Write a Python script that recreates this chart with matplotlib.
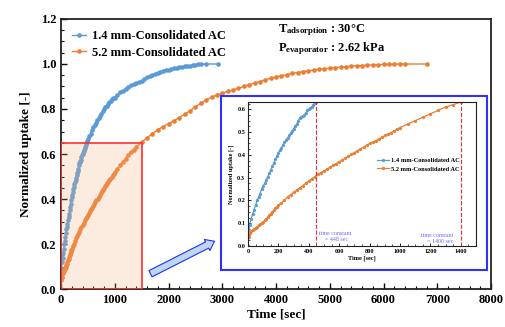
import numpy as np
import matplotlib
matplotlib.use("Agg")
import matplotlib.pyplot as plt
from matplotlib.patches import Rectangle, FancyArrowPatch
from matplotlib.ticker import MultipleLocator
from matplotlib.colors import to_rgba

# 1.4 mm consolidated AC
t_14 = [0, 10, 20, 30, 40, 50, 60, 70, 80, 90, 100, 110, 120, 130, 140, 150, 160,
        170, 180, 190, 200, 210, 220, 230, 240, 250, 260, 270, 280, 290, 300, 310,
        320, 330, 340, 350, 360, 370, 380, 390, 400, 410, 420, 430, 440, 450, 460,
        470, 480, 490, 500,
        525, 550, 575, 600, 625, 650, 675, 700, 725, 750, 775, 800, 825, 850, 875,
        900, 925, 950, 975, 1000,
        1050, 1100, 1150, 1200, 1250, 1300, 1350, 1400, 1450, 1500, 1550, 1600,
        1650, 1700, 1750, 1800, 1850, 1900, 1950, 2000, 2050, 2100, 2150, 2200,
        2250, 2300, 2350, 2400, 2450, 2500, 2550, 2600, 2700, 2926]
u_14 = [0, 0.09, 0.12, 0.14, 0.16, 0.18, 0.20, 0.215, 0.23, 0.25, 0.265, 0.275,
        0.29, 0.305, 0.32, 0.335, 0.35, 0.365, 0.38, 0.395, 0.41, 0.42, 0.43, 0.445,
        0.455, 0.465, 0.475, 0.485, 0.495, 0.505, 0.515, 0.525, 0.535, 0.55, 0.56,
        0.565, 0.57, 0.575, 0.585, 0.595, 0.60, 0.605, 0.612, 0.62, 0.628, 0.633,
        0.64, 0.647, 0.653, 0.66, 0.665,
        0.678, 0.69, 0.705, 0.72, 0.73, 0.74, 0.75, 0.76, 0.77, 0.78, 0.79, 0.80,
        0.808, 0.815, 0.822, 0.83, 0.837, 0.843, 0.847, 0.85,
        0.862, 0.875, 0.882, 0.89, 0.898, 0.905, 0.91, 0.915, 0.92, 0.925, 0.932,
        0.94, 0.945, 0.95, 0.956, 0.962, 0.966, 0.97, 0.972, 0.975, 0.978, 0.98,
        0.983, 0.985, 0.988, 0.99, 0.992, 0.993, 0.995, 0.997, 0.998, 0.999, 1.0,
        1.0]

# 5.2 mm consolidated AC
t_52 = [0, 5, 10, 20, 30, 40, 50, 60, 70, 80, 90, 100, 110, 120, 130, 140, 150,
        160, 170, 180, 190, 200,
        220, 240, 260, 280, 300, 320, 340, 360, 380, 400, 420, 440, 460, 480, 500,
        520, 540, 560, 580, 600, 620, 640, 660, 680, 700, 720, 740, 760, 780, 800,
        820, 840, 860, 880, 900, 920, 940, 960, 980, 1000,
        1050, 1100, 1150, 1200, 1250, 1300, 1350, 1400,
        1500, 1600, 1700, 1800, 1900, 2000, 2100, 2200, 2300, 2400, 2500, 2600,
        2700, 2800, 2900, 3000, 3100, 3200, 3300, 3400, 3500, 3600, 3700, 3800,
        3900, 4000, 4100, 4200, 4300, 4400, 4500, 4600, 4700, 4800, 4900, 5000,
        5100, 5200, 5300, 5400, 5500, 5600, 5700, 5800, 5900, 6000, 6100, 6200,
        6300, 6400, 6800]
u_52 = [0, 0.04, 0.055, 0.065, 0.07, 0.075, 0.08, 0.085, 0.09, 0.095, 0.10, 0.105,
        0.112, 0.12, 0.127, 0.135, 0.142, 0.15, 0.157, 0.165, 0.172, 0.18,
        0.19, 0.20, 0.215, 0.225, 0.235, 0.245, 0.255, 0.265, 0.275, 0.285, 0.295,
        0.305, 0.315, 0.322, 0.33, 0.338, 0.346, 0.354, 0.362, 0.37, 0.378, 0.386,
        0.394, 0.402, 0.41, 0.418, 0.426, 0.434, 0.442, 0.45, 0.456, 0.462, 0.47,
        0.477, 0.485, 0.491, 0.497, 0.505, 0.512, 0.52,
        0.535, 0.55, 0.565, 0.58, 0.595, 0.61, 0.62, 0.632,
        0.652, 0.672, 0.69, 0.708, 0.722, 0.735, 0.748, 0.762, 0.777, 0.792, 0.81,
        0.825, 0.84, 0.852, 0.862, 0.87, 0.878, 0.885, 0.892, 0.90, 0.908, 0.915,
        0.922, 0.93, 0.937, 0.943, 0.948, 0.953, 0.958, 0.962, 0.966, 0.97, 0.973,
        0.976, 0.979, 0.982, 0.984, 0.986, 0.988, 0.99, 0.992, 0.993, 0.995, 0.996,
        0.997, 0.998, 0.998, 0.999, 1.0, 1.0, 1.0]

tau_14 = 448
tau_52 = 1400

blue = "#5B9BD5"
orange = "#ED7D31"

plt.rcParams["font.family"] = "Liberation Serif"
plt.rcParams["font.weight"] = "bold"
plt.rcParams["mathtext.fontset"] = "custom"
plt.rcParams["mathtext.rm"] = "Liberation Serif:bold"
plt.rcParams["mathtext.bf"] = "Liberation Serif:bold"
plt.rcParams["mathtext.it"] = "Liberation Serif:bold"

fig = plt.figure(figsize=(5.05, 3.27), dpi=100)
ax = fig.add_axes([0.1208, 0.1162, 0.8515, 0.8257])

ax.plot(t_14, u_14, "-o", color=blue, ms=2.3, lw=1, label="1.4 mm-Consolidated AC")
ax.plot(t_52, u_52, "-o", color=orange, ms=2.3, lw=1, label="5.2 mm-Consolidated AC")

ax.add_patch(Rectangle((0, 0), 1500, 0.65, facecolor=to_rgba("#F4B183", 0.25),
                       edgecolor="#FF3030", lw=1.2, zorder=5))

ax.set_xlim(0, 8000)
ax.set_ylim(0, 1.2)
ax.xaxis.set_major_locator(MultipleLocator(1000))
ax.xaxis.set_minor_locator(MultipleLocator(200))
ax.yaxis.set_major_locator(MultipleLocator(0.2))
ax.yaxis.set_minor_locator(MultipleLocator(0.05))
ax.yaxis.set_major_formatter(plt.FormatStrFormatter("%.1f"))
ax.tick_params(which="both", direction="in", labelsize=9)
ax.tick_params(which="major", length=4, width=1)
ax.tick_params(which="minor", length=2.5, width=0.8)
for s in ax.spines.values():
    s.set_linewidth(1.3)
    s.set_color("#222222")
ax.set_xlabel("Time [sec]", fontsize=9.5, fontweight="bold", labelpad=2)
ax.set_ylabel("Normalized uptake [-]", fontsize=9.5, fontweight="bold", labelpad=6)

leg = ax.legend(loc="upper left", frameon=False, fontsize=9, handlelength=1.1,
                borderaxespad=0.5, labelspacing=0.35, handletextpad=0.5)

ax.text(0.505, 0.952, r"$\mathbf{T_{adsorption}}$ : 30°C", transform=ax.transAxes,
        fontsize=9, fontweight="bold")
ax.text(0.505, 0.882, r"$\mathbf{P_{evaporator}}$ : 2.62 kPa", transform=ax.transAxes,
        fontsize=9, fontweight="bold")

# blue frame around inset
ax.add_patch(Rectangle((221 / 505, 1 - 270 / 327), 266 / 505, 174 / 327,
                       transform=fig.transFigure, facecolor="white",
                       edgecolor="#3030FF", lw=1.5, clip_on=False, zorder=10))

arrow = FancyArrowPatch((148 / 505, 1 - 275 / 327), (217 / 505, 1 - 240 / 327),
                        transform=fig.transFigure,
                        arrowstyle="simple,head_width=9,head_length=6,tail_width=5",
                        mutation_scale=1, facecolor="#BDD7EE", edgecolor="#2030FF",
                        lw=0.8, zorder=11)
fig.patches.append(arrow)

# inset
ins = fig.add_axes([248 / 505, 1 - 246 / 327, 228 / 505, 144 / 327])
ins.set_zorder(12)
ins.plot(t_14, u_14, "-o", color=blue, ms=1.3, lw=0.9, label="1.4 mm-Consolidated AC")
ins.plot(t_52, u_52, "-o", color=orange, ms=1.3, lw=0.9, label="5.2 mm-Consolidated AC")
ins.axvline(tau_14, color="#E03030", ls="--", lw=0.8)
ins.axvline(tau_52, color="#E03030", ls="--", lw=0.8)
ins.set_xlim(0, 1500)
ins.set_ylim(0, 0.632)
ins.xaxis.set_major_locator(MultipleLocator(200))
ins.xaxis.set_minor_locator(MultipleLocator(50))
ins.yaxis.set_major_locator(MultipleLocator(0.1))
ins.yaxis.set_minor_locator(MultipleLocator(0.025))
ins.yaxis.set_major_formatter(plt.FormatStrFormatter("%.1f"))
ins.tick_params(which="both", direction="in", labelsize=4.5, pad=2)
ins.tick_params(which="major", length=2.5, width=0.6)
ins.tick_params(which="minor", length=1.3, width=0.5)
for s in ins.spines.values():
    s.set_linewidth(0.8)
    s.set_color("#222222")
ins.set_xlabel("Time [sec]", fontsize=4.5, fontweight="bold", labelpad=1)
ins.set_ylabel("Normalized uptake [-]", fontsize=4.5, fontweight="bold", labelpad=2)
ins.legend(loc="center right", bbox_to_anchor=(0.955, 0.565), frameon=False,
           fontsize=4.6, handlelength=1.8, labelspacing=0.45, handletextpad=0.4)
ins.text(tau_14 + 20, 0.022, "time constant\n    = 448 sec", fontsize=4.3,
         color="#6A6AFF", fontweight="normal")
ins.text(1140, 0.012, "time constant\n    = 1400 sec", fontsize=4.3,
         color="#6A6AFF", fontweight="normal")

fig.savefig("out.png", dpi=100)
